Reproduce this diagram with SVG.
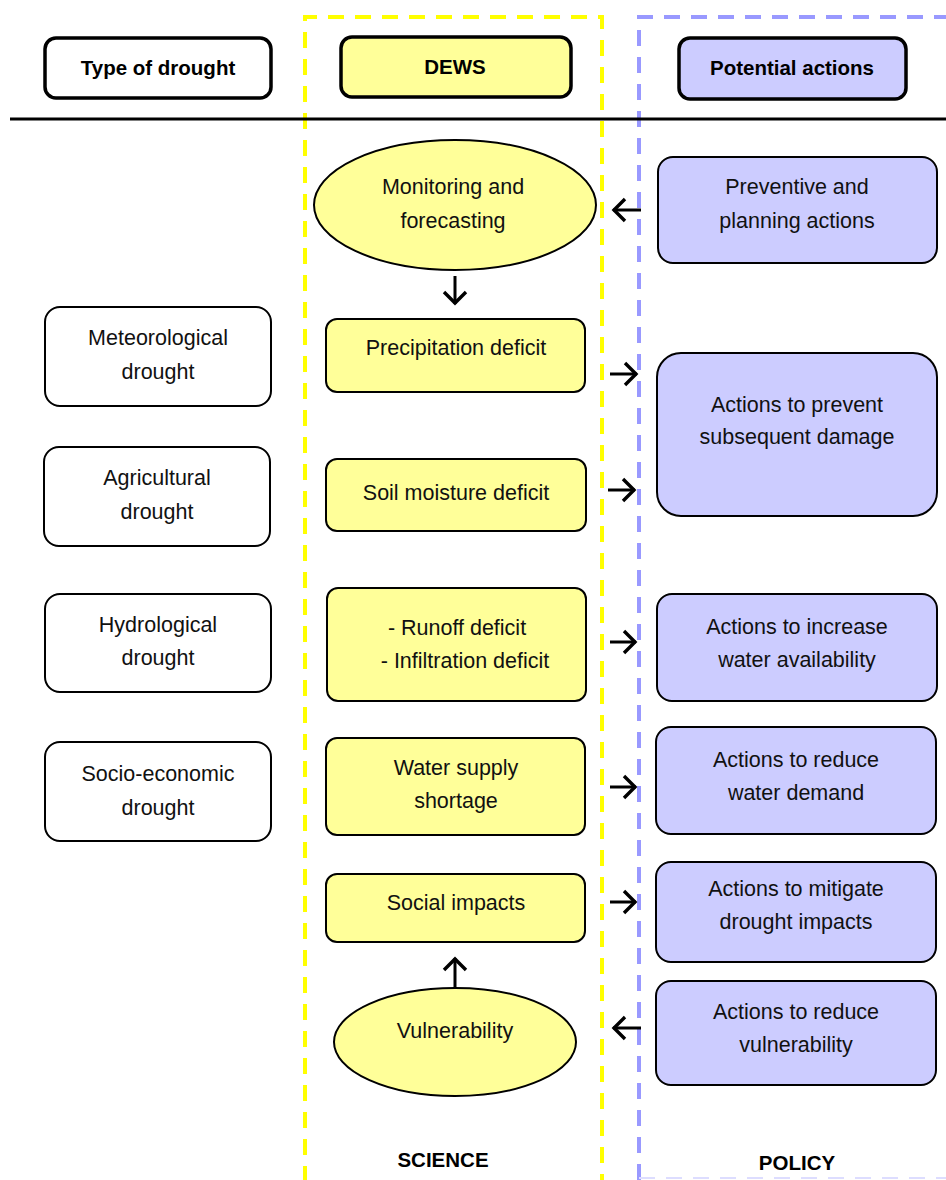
<svg xmlns="http://www.w3.org/2000/svg" width="946" height="1180" viewBox="0 0 946 1180">
  <defs>
    <style>
      .t { font-family: "Liberation Sans", Arial, sans-serif; font-size: 21.5px; fill: #111; text-anchor: middle; }
      .b { font-family: "Liberation Sans", Arial, sans-serif; font-size: 20.5px; font-weight: bold; fill: #000; text-anchor: middle; }
      .hdr { stroke: #000; stroke-width: 3.5; }
      .box { stroke: #000; stroke-width: 2; }
      .white { fill: #fff; }
      .yel { fill: #FFFF99; }
      .blu { fill: #CCCCFF; }
      .conn line { stroke: #000; stroke-width: 3; fill: none; }
    </style>
    <marker id="chev" viewBox="0 0 16 26" refX="14" refY="13" markerWidth="16" markerHeight="26" markerUnits="userSpaceOnUse" orient="auto">
      <path d="M2,2 L13,13 L2,24" fill="none" stroke="#000" stroke-width="3.4"/>
    </marker>
  </defs>

  <rect width="946" height="1180" fill="#fff"/>

  <!-- column frames -->
  <g id="science-frame">
    <path d="M305,1182 V17 H602 V1182" fill="none" stroke="#FFFF00" stroke-width="4" stroke-dasharray="16,11"/>
  </g>
  <g id="policy-frame">
    <path d="M639,1180 V17 H950" fill="none" stroke="#9999FF" stroke-width="4" stroke-dasharray="16,11"/>
    <path d="M639,1178 H950" fill="none" stroke="#DDDDFF" stroke-width="2" stroke-dasharray="16,11"/>
  </g>

  <!-- header separator -->
  <line x1="10" y1="119" x2="946" y2="119" stroke="#000" stroke-width="3"/>

  <!-- headers -->
  <g id="hdr-type">
    <rect class="hdr white" x="45" y="38" width="226" height="60" rx="11"/>
    <text class="b" x="158" y="75">Type of drought</text>
  </g>
  <g id="hdr-dews">
    <rect class="hdr yel" x="341" y="37" width="230" height="60" rx="11"/>
    <text class="b" x="455" y="74">DEWS</text>
  </g>
  <g id="hdr-actions">
    <rect class="hdr blu" x="679" y="38" width="227" height="61" rx="11"/>
    <text class="b" x="792" y="75">Potential actions</text>
  </g>

  <!-- drought types -->
  <g id="meteorological">
    <rect class="box white" x="45" y="307" width="226" height="99" rx="15"/>
    <text class="t" x="158" y="345">Meteorological</text>
    <text class="t" x="158" y="379">drought</text>
  </g>
  <g id="agricultural">
    <rect class="box white" x="44" y="447" width="226" height="99" rx="15"/>
    <text class="t" x="157" y="485">Agricultural</text>
    <text class="t" x="157" y="519">drought</text>
  </g>
  <g id="hydrological">
    <rect class="box white" x="45" y="594" width="226" height="98" rx="15"/>
    <text class="t" x="158" y="632">Hydrological</text>
    <text class="t" x="158" y="665">drought</text>
  </g>
  <g id="socio-economic">
    <rect class="box white" x="45" y="742" width="226" height="99" rx="15"/>
    <text class="t" x="158" y="781">Socio-economic</text>
    <text class="t" x="158" y="815">drought</text>
  </g>

  <!-- DEWS chain -->
  <g id="monitoring">
    <ellipse class="box yel" cx="455" cy="205" rx="141" ry="65"/>
    <text class="t" x="453" y="194">Monitoring and</text>
    <text class="t" x="453" y="228">forecasting</text>
  </g>
  <g id="precipitation">
    <rect class="box yel" x="326" y="319" width="259" height="73" rx="11"/>
    <text class="t" x="456" y="355">Precipitation deficit</text>
  </g>
  <g id="soil-moisture">
    <rect class="box yel" x="326" y="459" width="260" height="72" rx="11"/>
    <text class="t" x="456" y="500">Soil moisture deficit</text>
  </g>
  <g id="runoff">
    <rect class="box yel" x="327" y="588" width="259" height="113" rx="11"/>
    <text class="t" x="457" y="635">- Runoff deficit</text>
    <text class="t" x="465" y="668">- Infiltration deficit</text>
  </g>
  <g id="water-supply">
    <rect class="box yel" x="326" y="738" width="259" height="97" rx="11"/>
    <text class="t" x="456" y="775">Water supply</text>
    <text class="t" x="456" y="808">shortage</text>
  </g>
  <g id="social-impacts">
    <rect class="box yel" x="326" y="874" width="259" height="68" rx="11"/>
    <text class="t" x="456" y="910">Social impacts</text>
  </g>
  <g id="vulnerability">
    <ellipse class="box yel" cx="455" cy="1042" rx="121" ry="54"/>
    <text class="t" x="455" y="1038">Vulnerability</text>
  </g>

  <!-- actions -->
  <g id="preventive">
    <rect class="box blu" x="658" y="157" width="279" height="106" rx="15"/>
    <text class="t" x="797" y="194">Preventive and</text>
    <text class="t" x="797" y="228">planning actions</text>
  </g>
  <g id="prevent-damage">
    <rect class="box blu" x="657" y="353" width="280" height="163" rx="24"/>
    <text class="t" x="797" y="412">Actions to prevent</text>
    <text class="t" x="797" y="444">subsequent damage</text>
  </g>
  <g id="increase-water">
    <rect class="box blu" x="657" y="594" width="280" height="107" rx="15"/>
    <text class="t" x="797" y="634">Actions to increase</text>
    <text class="t" x="797" y="667">water availability</text>
  </g>
  <g id="reduce-demand">
    <rect class="box blu" x="656" y="727" width="280" height="107" rx="15"/>
    <text class="t" x="796" y="767">Actions to reduce</text>
    <text class="t" x="796" y="800">water demand</text>
  </g>
  <g id="mitigate">
    <rect class="box blu" x="656" y="862" width="280" height="100" rx="15"/>
    <text class="t" x="796" y="896">Actions to mitigate</text>
    <text class="t" x="796" y="929">drought impacts</text>
  </g>
  <g id="reduce-vulnerability">
    <rect class="box blu" x="656" y="981" width="280" height="104" rx="15"/>
    <text class="t" x="796" y="1019">Actions to reduce</text>
    <text class="t" x="796" y="1052">vulnerability</text>
  </g>

  <!-- column captions -->
  <text class="b" x="443" y="1167">SCIENCE</text>
  <text class="b" x="797" y="1170">POLICY</text>

  <!-- connectors -->
  <g class="conn" id="connectors">
    <line x1="641" y1="210" x2="613" y2="210" marker-end="url(#chev)"/>
    <line x1="455" y1="276" x2="455" y2="304" marker-end="url(#chev)"/>
    <line x1="610" y1="374" x2="637" y2="374" marker-end="url(#chev)"/>
    <line x1="608" y1="490" x2="635" y2="490" marker-end="url(#chev)"/>
    <line x1="610" y1="642" x2="636" y2="642" marker-end="url(#chev)"/>
    <line x1="610" y1="787" x2="636" y2="787" marker-end="url(#chev)"/>
    <line x1="610" y1="902" x2="636" y2="902" marker-end="url(#chev)"/>
    <line x1="455" y1="987" x2="455" y2="958" marker-end="url(#chev)"/>
    <line x1="641" y1="1028" x2="613" y2="1028" marker-end="url(#chev)"/>
  </g>
</svg>
